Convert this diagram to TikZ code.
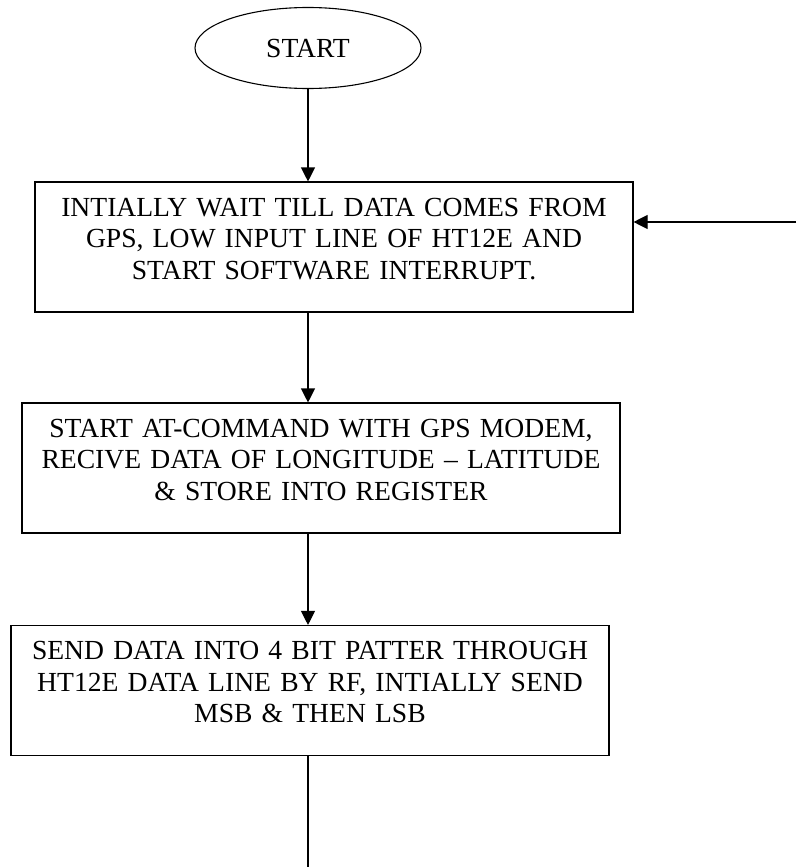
\documentclass[tikz,border=0pt]{standalone}
\usepackage{fontspec}
\setmainfont{Liberation Serif}
\usetikzlibrary{shapes.geometric,arrows.meta}

\begin{document}
\begin{tikzpicture}[x=1pt,y=-1pt,line width=1.1pt,
                    font=\fontsize{27.6}{31.5}\selectfont,
                    terminal/.style={draw,ellipse,inner sep=0pt,minimum width=226pt,minimum height=81pt},
                    process/.style={draw,rectangle,minimum width=598pt,minimum height=130pt,text width=590pt,align=center,
                                    execute at end node={\rule[-17pt]{0pt}{0pt}}},
                    flow/.style={-{Triangle[length=14pt,width=14pt]}}]
                  \useasboundingbox (0,0) rectangle (796,867);
                  \node[terminal] (start) at (308,48) {START};
                  \node[process] (wait) at (334,247) {INTIALLY WAIT TILL DATA COMES FROM\\GPS, LOW INPUT LINE OF HT12E AND\\START SOFTWARE INTERRUPT.};
                  \node[process] (gps) at (321,468) {START AT-COMMAND WITH GPS MODEM,\\RECIVE DATA OF LONGITUDE -- LATITUDE\\\& STORE INTO REGISTER};
                  \node[process] (send) at (310,690.5) {SEND DATA INTO 4 BIT PATTER THROUGH\\HT12E DATA LINE BY RF, INTIALLY SEND\\MSB \& THEN LSB};
                  \coordinate (back) at (796,222);
                  \coordinate (tail) at (308,867);
                  % connectors
                  \draw[flow] (start.south) -- (wait.north -| start);
                  \draw[flow] (wait.south -| start) -- (gps.north -| start);
                  \draw[flow] (gps.south -| start) -- (send.north -| start);
                  \draw (send.south -| start) -- (tail);
                  \draw[flow] (back) -- (back -| wait.east);
\end{tikzpicture}
\end{document}
